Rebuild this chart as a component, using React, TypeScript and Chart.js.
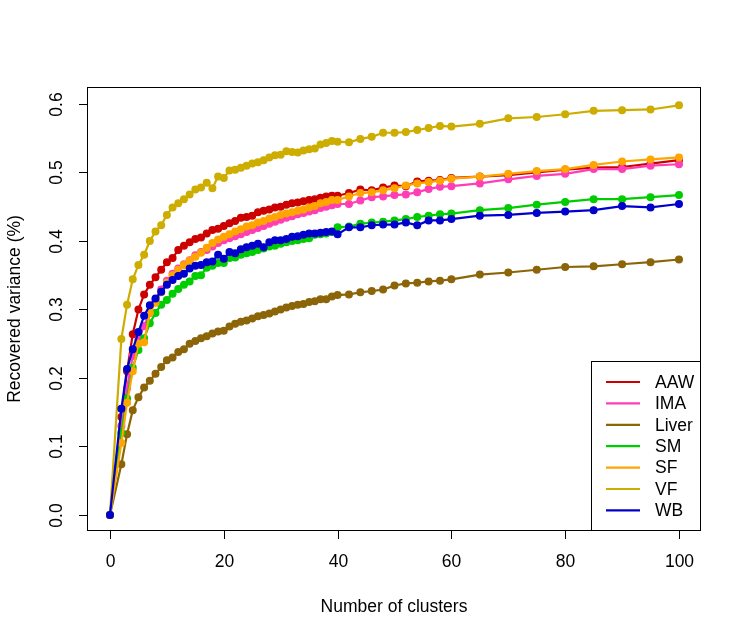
import React, { useEffect, useRef } from "react";
import { Chart, registerables } from "chart.js";

Chart.register(...registerables);

// Number of clusters (x values)
const clusters = [
  0, 2, 3, 4, 5, 6, 7, 8, 9, 10, 11, 12, 13, 14, 15, 16, 17, 18, 19, 20,
  21, 22, 23, 24, 25, 26, 27, 28, 29, 30, 31, 32, 33, 34, 35, 36, 37, 38, 39, 40,
  42, 44, 46, 48, 50, 52, 54, 56, 58, 60,
  65, 70, 75, 80, 85, 90, 95, 100,
];

const AAW = [
  0, 0.143, 0.21, 0.264, 0.3, 0.322, 0.336, 0.347, 0.358, 0.369, 0.375, 0.387, 0.393, 0.398, 0.403, 0.405, 0.411, 0.416, 0.418, 0.422,
  0.426, 0.429, 0.434, 0.435, 0.437, 0.442, 0.444, 0.446, 0.449, 0.45, 0.453, 0.455, 0.456, 0.458, 0.46, 0.461, 0.463, 0.465, 0.466, 0.466,
  0.47, 0.475, 0.474, 0.478, 0.481, 0.48, 0.487, 0.488, 0.489, 0.492,
  0.494, 0.496, 0.5, 0.504, 0.507, 0.508, 0.513, 0.518,
];

const IMA = [
  0, 0.13, 0.185, 0.232, 0.256, 0.276, 0.295, 0.314, 0.329, 0.342, 0.352, 0.36, 0.366, 0.372, 0.379, 0.384, 0.387, 0.392, 0.397, 0.401,
  0.404, 0.407, 0.41, 0.413, 0.416, 0.419, 0.422, 0.425, 0.428, 0.431, 0.434, 0.436, 0.439, 0.441, 0.443, 0.445, 0.448, 0.45, 0.452, 0.454,
  0.454, 0.459, 0.464, 0.465, 0.467, 0.468, 0.471, 0.476, 0.479, 0.48,
  0.484, 0.49, 0.495, 0.498, 0.505, 0.505, 0.51, 0.512,
];

const Liver = [
  0, 0.074, 0.118, 0.153, 0.172, 0.186, 0.196, 0.206, 0.216, 0.226, 0.23, 0.238, 0.242, 0.25, 0.254, 0.258, 0.261, 0.265, 0.268, 0.269,
  0.275, 0.279, 0.282, 0.284, 0.287, 0.29, 0.292, 0.294, 0.297, 0.3, 0.303, 0.305, 0.307, 0.308, 0.311, 0.312, 0.315, 0.315, 0.319, 0.321,
  0.322, 0.325, 0.327, 0.329, 0.335, 0.338, 0.339, 0.341, 0.342, 0.344,
  0.351, 0.354, 0.358, 0.362, 0.363, 0.366, 0.369, 0.373,
];

const SM = [
  0, 0.12, 0.17, 0.215, 0.241, 0.258, 0.28, 0.295, 0.307, 0.314, 0.323, 0.33, 0.336, 0.341, 0.349, 0.35, 0.361, 0.364, 0.368, 0.368,
  0.375, 0.376, 0.38, 0.382, 0.384, 0.387, 0.389, 0.392, 0.393, 0.396, 0.398, 0.4, 0.401, 0.403, 0.404, 0.409, 0.41, 0.411, 0.413, 0.42,
  0.421, 0.425, 0.427, 0.428, 0.43, 0.432, 0.435, 0.437, 0.439, 0.44,
  0.445, 0.448, 0.453, 0.457, 0.461, 0.461, 0.464, 0.467,
];

const SF = [
  0, 0.105, 0.164, 0.21, 0.25, 0.252, 0.295, 0.31, 0.325, 0.339, 0.35, 0.358, 0.365, 0.371, 0.377, 0.383, 0.39, 0.397, 0.402, 0.406,
  0.41, 0.414, 0.417, 0.421, 0.423, 0.427, 0.429, 0.433, 0.435, 0.438, 0.44, 0.442, 0.444, 0.446, 0.449, 0.451, 0.455, 0.457, 0.46, 0.46,
  0.465, 0.47, 0.471, 0.474, 0.477, 0.481, 0.484, 0.486, 0.488, 0.491,
  0.494, 0.498, 0.502, 0.505, 0.511, 0.516, 0.519, 0.522,
];

const VF = [
  0, 0.257, 0.307, 0.344, 0.365, 0.38, 0.4, 0.414, 0.423, 0.438, 0.449, 0.455, 0.461, 0.468, 0.475, 0.478, 0.485, 0.477, 0.494, 0.492,
  0.503, 0.504, 0.507, 0.51, 0.513, 0.515, 0.518, 0.522, 0.525, 0.526, 0.531, 0.53, 0.529, 0.532, 0.534, 0.535, 0.541, 0.543, 0.546, 0.545,
  0.544, 0.549, 0.552, 0.558, 0.558, 0.559, 0.562, 0.565, 0.568, 0.567,
  0.571, 0.579, 0.581, 0.585, 0.59, 0.591, 0.592, 0.598,
];

const WB = [
  0, 0.155, 0.213, 0.242, 0.267, 0.291, 0.306, 0.316, 0.326, 0.336, 0.343, 0.349, 0.352, 0.36, 0.364, 0.365, 0.369, 0.37, 0.38, 0.374,
  0.384, 0.382, 0.388, 0.391, 0.393, 0.396, 0.391, 0.398, 0.401, 0.401, 0.403, 0.406, 0.407, 0.409, 0.411, 0.411, 0.412, 0.413, 0.414, 0.41,
  0.42, 0.42, 0.423, 0.424, 0.424, 0.427, 0.423, 0.43, 0.43, 0.432,
  0.437, 0.438, 0.441, 0.443, 0.445, 0.451, 0.449, 0.454,
];

const seriesNames = ["AAW", "IMA", "Liver", "SM", "SF", "VF", "WB"];
const seriesValues = [AAW, IMA, Liver, SM, SF, VF, WB];
const seriesColors = ["#CD0000", "#FF3EB5", "#8B6508", "#00CD00", "#FFA500", "#CDAD00", "#0000CD"];

const xTicks = [0, 20, 40, 60, 80, 100];
const xTickLabels = ["0", "20", "40", "60", "80", "100"];
const yTicks = [0, 0.1, 0.2, 0.3, 0.4, 0.5, 0.6];
const yTickLabels = ["0.0", "0.1", "0.2", "0.3", "0.4", "0.5", "0.6"];

const xTitle = "Number of clusters";
const yTitle = "Recovered variance (%)";

const FONT = '17.5px "Liberation Sans", Arial, Helvetica, sans-serif';

const rPlotPlugin = {
  id: "rPlot",
  afterDraw(chart: any) {
    const { ctx, chartArea, scales } = chart;
    const xs = scales.x;
    const ys = scales.y;
    const L = chartArea.left, R = chartArea.right, T = chartArea.top, B = chartArea.bottom;
    ctx.save();
    ctx.strokeStyle = "#000";
    ctx.fillStyle = "#000";
    ctx.lineWidth = 1;
    // box
    ctx.strokeRect(Math.round(L) + 0.5, Math.round(T) + 0.5, Math.round(R - L) - 1, Math.round(B - T) - 1);
    ctx.font = FONT;
    // x ticks
    ctx.textAlign = "center";
    ctx.textBaseline = "middle";
    xTicks.forEach((v, i) => {
      const px = Math.round(xs.getPixelForValue(v)) + 0.5;
      ctx.beginPath();
      ctx.moveTo(px, B - 0.5);
      ctx.lineTo(px, B + 8);
      ctx.stroke();
      ctx.fillText(xTickLabels[i], px, 562);
    });
    // y ticks
    yTicks.forEach((v, i) => {
      const py = Math.round(ys.getPixelForValue(v)) + 0.5;
      ctx.beginPath();
      ctx.moveTo(L + 0.5, py);
      ctx.lineTo(L - 8, py);
      ctx.stroke();
      ctx.save();
      ctx.translate(57, py);
      ctx.rotate(-Math.PI / 2);
      ctx.fillText(yTickLabels[i], 0, 0);
      ctx.restore();
    });
    // titles
    ctx.fillText(xTitle, (L + R) / 2, 607);
    ctx.save();
    ctx.translate(15, (T + B) / 2);
    ctx.rotate(-Math.PI / 2);
    ctx.fillText(yTitle, 0, 0);
    ctx.restore();
    // legend
    const lgL = 591, lgT = 361, lgR = R, lgB = B;
    ctx.fillStyle = "#fff";
    ctx.fillRect(lgL, lgT, lgR - lgL, lgB - lgT);
    ctx.strokeStyle = "#000";
    ctx.lineWidth = 1;
    ctx.strokeRect(lgL + 0.5, lgT + 0.5, lgR - lgL - 1, lgB - lgT - 1);
    ctx.textAlign = "left";
    seriesNames.forEach((name, i) => {
      const y = 382 + i * 21.4;
      ctx.strokeStyle = seriesColors[i];
      ctx.lineWidth = 2.2;
      ctx.beginPath();
      ctx.moveTo(606, y);
      ctx.lineTo(640, y);
      ctx.stroke();
      ctx.fillStyle = "#000";
      ctx.fillText(name, 655, y + 1);
    });
    ctx.restore();
  },
};

export default function App() {
  const ref = useRef<HTMLCanvasElement | null>(null);
  useEffect(() => {
    if (!ref.current) return;
    const datasets = seriesNames.map((name, i) => ({
      label: name,
      data: clusters.map((c, j) => ({ x: c, y: seriesValues[i][j] })),
      borderColor: seriesColors[i],
      backgroundColor: seriesColors[i],
      pointBackgroundColor: seriesColors[i],
      pointBorderColor: seriesColors[i],
      borderWidth: 2.2,
      pointRadius: 3.3,
      pointBorderWidth: 1.4,
      tension: 0,
      order: seriesNames.length - i,
    }));
    const chart = new Chart(ref.current, {
      type: "line",
      data: { datasets },
      plugins: [rPlotPlugin],
      options: {
        animation: false,
        responsive: false,
        events: [],
        layout: { padding: { left: 87, right: 46, top: 87, bottom: 110 } },
        plugins: { legend: { display: false }, tooltip: { enabled: false } },
        scales: {
          x: { type: "linear", min: -4.04, max: 103.87, display: false },
          y: { type: "linear", min: -0.0234, max: 0.6248, display: false },
        },
      },
    });
    return () => chart.destroy();
  }, []);
  return (
    <div style={{ position: "fixed", left: 0, top: 0, width: 747, height: 641, background: "#fff" }}>
      <canvas ref={ref} width={747} height={641} style={{ width: 747, height: 641 }} />
    </div>
  );
}
